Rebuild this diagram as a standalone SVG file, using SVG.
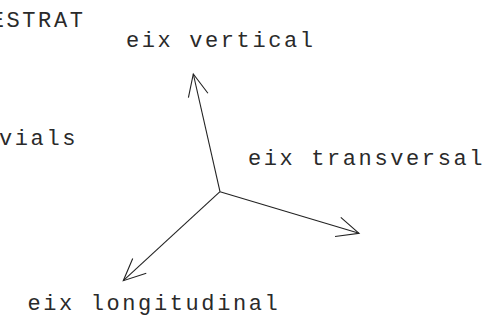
<svg xmlns="http://www.w3.org/2000/svg" width="492" height="333" viewBox="0 0 492 333">
<style>
text{font-family:"Liberation Mono","Courier New",monospace;font-size:22px;letter-spacing:2.6px;fill:#2a2a2a}
.ax{stroke:#222;stroke-width:1.1;fill:none}
</style>
<defs>
<marker id="ah" markerUnits="userSpaceOnUse" orient="auto" markerWidth="30" markerHeight="30" refX="0" refY="0" viewBox="-30 -15 30 30" overflow="visible">
<path d="M-22,-10 L0,0 L-22,10" fill="none" stroke="#222" stroke-width="1.1"/>
</marker>
</defs>
<rect width="492" height="333" fill="#fff"/>
<g id="labels">
<g id="estrat"><text x="85.5" y="27" text-anchor="end">ESTRAT</text></g>
<g id="vials"><text x="-1" y="145">vials</text></g>
<g id="vertical"><text x="126" y="47">eix vertical</text></g>
<g id="transversal"><text x="248" y="165">eix transversal</text></g>
<g id="longitudinal"><text x="27.5" y="310">eix longitudinal</text></g>
</g>
<g id="connectors">
<line class="ax" x1="220" y1="191.7" x2="193.3" y2="74" marker-end="url(#ah)"/>
<line class="ax" x1="220" y1="191.7" x2="359" y2="233.3" marker-end="url(#ah)"/>
<line class="ax" x1="220" y1="191.7" x2="123.3" y2="280.7" marker-end="url(#ah)"/>
</g>
</svg>
